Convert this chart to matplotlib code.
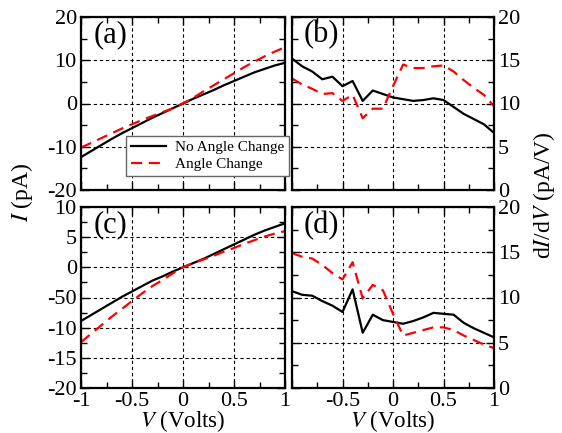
import numpy as np
import matplotlib
matplotlib.use("Agg")
import matplotlib.pyplot as plt
from matplotlib.ticker import MultipleLocator

plt.rcParams['font.family'] = ['Liberation Serif', 'DejaVu Serif']
plt.rcParams['mathtext.fontset'] = 'stix'
plt.rcParams['axes.unicode_minus'] = False

# bias voltage, 0.1 V steps
V = [-1.0, -0.9, -0.8, -0.7, -0.6, -0.5, -0.4, -0.3, -0.2, -0.1, 0.0,
     0.1, 0.2, 0.3, 0.4, 0.5, 0.6, 0.7, 0.8, 0.9, 1.0]

# top row: current (pA) and conductance (pA/V)
I_top_no = [-12.4, -11.0, -9.6, -8.2, -6.9, -5.7, -4.5, -3.3, -2.2, -1.1, 0.0,
            1.1, 2.1, 3.1, 4.2, 5.2, 6.2, 7.2, 8.0, 8.8, 9.4]
I_top_ang = [-10.2, -9.1, -8.0, -6.9, -5.8, -4.8, -3.8, -2.9, -2.0, -1.1, 0.0,
             1.3, 2.8, 4.2, 5.6, 7.0, 8.4, 9.7, 10.9, 12.0, 13.0]
G_top_no = [15.2, 14.3, 13.7, 12.8, 13.1, 12.0, 12.6, 10.3, 11.5, 11.1, 10.7,
            10.5, 10.3, 10.4, 10.6, 10.4, 9.6, 8.8, 8.2, 7.6, 6.6]
G_top_ang = [12.9, 12.2, 11.7, 11.1, 11.2, 10.3, 11.0, 8.3, 9.4, 9.4, 12.0,
             14.5, 14.1, 14.1, 14.3, 14.4, 13.7, 12.7, 11.8, 11.0, 9.7]

# bottom row
I_bot_no = [-8.9, -7.9, -6.9, -5.9, -4.9, -4.0, -3.1, -2.2, -1.5, -0.7, 0.0,
            0.7, 1.4, 2.2, 3.0, 3.8, 4.6, 5.4, 6.1, 6.7, 7.3]
I_bot_ang = [-12.4, -11.0, -9.6, -8.2, -6.9, -5.6, -4.3, -3.1, -2.1, -1.0, 0.0,
             0.7, 1.3, 1.9, 2.6, 3.2, 3.9, 4.5, 5.1, 5.6, 6.0]
G_bot_no = [10.7, 10.3, 10.2, 9.6, 9.1, 8.4, 10.9, 6.1, 8.1, 7.5, 7.3,
            7.1, 7.4, 7.8, 8.3, 8.2, 8.1, 7.2, 6.6, 6.1, 5.6]
G_bot_ang = [14.9, 14.5, 14.3, 13.6, 12.7, 12.0, 13.9, 9.9, 11.4, 10.8, 8.2,
             5.8, 6.1, 6.4, 6.7, 6.7, 6.4, 5.8, 5.3, 4.8, 4.4]

x_ticks = [-1, -0.5, 0, 0.5, 1]
x_labels = ['-1', '-0.5', '0', '0.5', '1']
x_labels_d = ['', '-0.5', '0', '0.5', '1']
ya_ticks = [-20, -10, 0, 10, 20]
ya_labels = ['-20', '-10', '0', '10', '20']
yc_ticks = [-20, -15, -10, -5, 0, 5, 10]
yc_labels = ['-20', '-15', '-10', '-50', '0', '5', '10']
g_ticks = [0, 5, 10, 15, 20]
g_labels = ['0', '5', '10', '15', '20']

fig = plt.figure(figsize=(5.62, 4.33), dpi=100)
W, H = 562, 433

def box(l, t, r, b):
    return [l / W, 1 - b / H, (r - l) / W, (b - t) / H]

ax_a = fig.add_axes(box(81, 17, 285, 190))
ax_b = fig.add_axes(box(292, 17, 494, 190))
ax_c = fig.add_axes(box(81, 207, 285, 388))
ax_d = fig.add_axes(box(292, 207, 494, 388))

def style(ax, yminor):
    ax.set_xlim(-1, 1)
    ax.xaxis.set_minor_locator(MultipleLocator(0.25))
    ax.yaxis.set_minor_locator(MultipleLocator(yminor))
    ax.tick_params(which='both', direction='in', top=True, right=True,
                   labelsize=16, pad=3)
    ax.tick_params(which='major', length=6, width=1)
    ax.tick_params(which='minor', length=4, width=1)
    ax.grid(True, which='major', color='black', linestyle=(0, (3, 2.5)),
            linewidth=0.8)
    for sp in ax.spines.values():
        sp.set_linewidth(1.6)

def draw(ax, a, b):
    ax.plot(V, a, color='black', lw=1.6, label='No Angle Change')
    ax.plot(V, b, color='red', lw=1.6, linestyle=(0, (5, 3)),
            label='Angle Change')

draw(ax_a, I_top_no, I_top_ang)
draw(ax_b, G_top_no, G_top_ang)
draw(ax_c, I_bot_no, I_bot_ang)
draw(ax_d, G_bot_no, G_bot_ang)

style(ax_a, 5)
ax_a.set_ylim(-20, 20)
ax_a.set_xticks(x_ticks)
ax_a.set_xticklabels([])
ax_a.set_yticks(ya_ticks)
ax_a.set_yticklabels(ya_labels)

style(ax_b, 2.5)
ax_b.set_ylim(0, 20)
ax_b.set_xticks(x_ticks)
ax_b.set_xticklabels([])
ax_b.set_yticks(g_ticks)
ax_b.set_yticklabels(g_labels)
ax_b.yaxis.tick_right()
ax_b.tick_params(which='both', left=True, direction='in')

style(ax_c, 2.5)
ax_c.set_ylim(-20, 10)
ax_c.set_xticks(x_ticks)
ax_c.set_xticklabels(x_labels)
ax_c.set_yticks(yc_ticks)
ax_c.set_yticklabels(yc_labels)
ax_c.set_xlabel('$V$ (Volts)', fontsize=16.5, labelpad=-2)

style(ax_d, 2.5)
ax_d.set_ylim(0, 20)
ax_d.set_xticks(x_ticks)
ax_d.set_xticklabels(x_labels_d)
ax_d.set_yticks(g_ticks)
ax_d.set_yticklabels(g_labels)
ax_d.yaxis.tick_right()
ax_d.tick_params(which='both', left=True, direction='in')
ax_d.set_xlabel('$V$ (Volts)', fontsize=16.5, labelpad=-2)

for ax, tag in zip([ax_a, ax_b, ax_c, ax_d], ['(a)', '(b)', '(c)', '(d)']):
    ax.text(0.06, 0.90, tag, transform=ax.transAxes, fontsize=22,
            va='center', ha='left')

fig.text(22 / W, 1 - 192 / H, '$I$ (pA)', rotation=90, fontsize=17,
         ha='center', va='center')
fig.text(544 / W, 1 - 195 / H, 'd$I$/d$V$ (pA/V)', rotation=90, fontsize=17,
         ha='center', va='center')

leg = ax_a.legend(loc='upper left', bbox_to_anchor=(126 / W, 1 - 136 / H),
                  bbox_transform=fig.transFigure, borderaxespad=0,
                  fontsize=11, handlelength=2.3, handletextpad=0.6,
                  labelspacing=0.2, borderpad=0.3, fancybox=False,
                  framealpha=1, edgecolor='#666666')
leg.get_frame().set_linewidth(1.0)

fig.savefig('out.png', dpi=100)
